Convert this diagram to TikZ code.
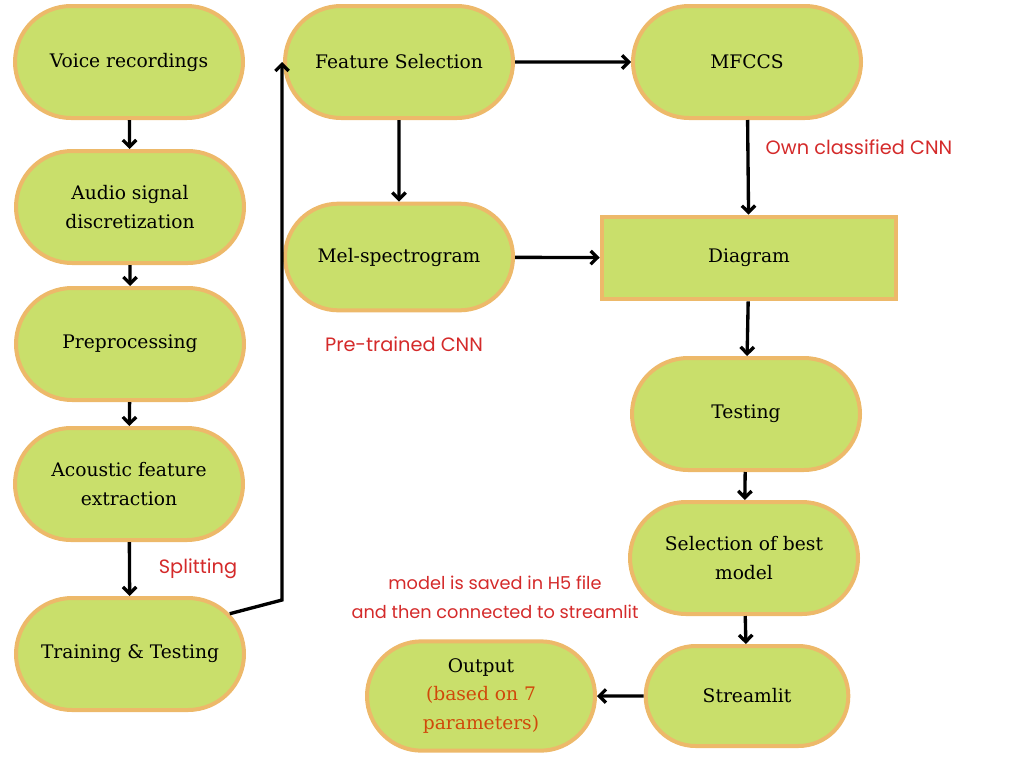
\documentclass[tikz,border=0pt]{standalone}
\usepackage{fontspec}
\setmainfont{DejaVu Serif}
\newfontfamily\notefont{Poppins}
\usepackage{tikz}
\usetikzlibrary{arrows.meta, shapes.misc}
\definecolor{leaf}{HTML}{C9DF6B}
\definecolor{rim}{HTML}{EDB96A}
\definecolor{note}{HTML}{D42A2A}
\definecolor{rust}{HTML}{D0480A}

\begin{document}
\begin{tikzpicture}[x=0.75pt, y=-0.75pt]
\tikzstyle{stage}=[rounded rectangle, draw=rim, fill=leaf, line width=3pt, minimum width=171pt, minimum height=84pt, inner sep=0pt, align=center, font=\fontsize{14}{21.5}\selectfont]
\tikzstyle{box}=[rectangle, draw=rim, fill=leaf, line width=3pt, minimum width=221pt, minimum height=62pt, align=center, font=\fontsize{14}{21.5}\selectfont]
\tikzstyle{remark}=[text=note, align=center, font=\notefont\fontsize{14.5}{21.5}\selectfont]
\tikzstyle{flow}=[draw=black, line width=2.5pt, -{Straight Barb[length=5pt, width=10pt]}]
\useasboundingbox (0,0) rectangle (1024,768);

% left column
\node[stage] (voice) at (129,62) {Voice recordings};
\node[stage] (audio) at (130,207) {Audio signal\\discretization};
\node[stage] (prep) at (130,344) {Preprocessing};
\node[stage] (acoustic) at (129,484) {Acoustic feature\\extraction};
\node[stage] (train) at (130,654) {Training \& Testing};

% middle column
\node[stage] (feat) at (399,62) {Feature Selection};
\node[stage, minimum height=80pt] (mel) at (399,257) {Mel-spectrogram};
\node[stage, minimum height=82pt] (output) at (481,696) {Output\\\textcolor{rust}{(based on 7}\\\textcolor{rust}{parameters)}};

% right column
\node[stage] (mfcc) at (747,62) {MFCCS};
\node[box] (diag) at (749,258) {Diagram};
\node[stage] (test) at (746,414) {Testing};
\node[stage] (best) at (744,558) {Selection of best\\model};
\node[stage, minimum width=152pt, minimum height=75pt] (stream) at (747,696) {Streamlit};

% notes
\node[remark] (own) at (859,147) {Own classified CNN};
\node[remark] (pre) at (404,344) {Pre-trained CNN};
\node[remark] (split) at (198,569) {Splitting};
\node[remark, font=\notefont\fontsize{13.3}{21.5}\selectfont] (saved) at (495,597) {model is saved in H5 file\\and then connected to streamlit};

\coordinate (kink) at (282,600);

\path[flow]
(voice) edge (audio)
(audio) edge (prep)
(prep) edge (acoustic)
(acoustic) edge (train)
(feat) edge (mfcc)
    edge (mel)
(mfcc) edge (diag)
(mel) edge (diag)
(diag) edge (test)
(test) edge (best)
(best) edge (stream)
(stream) edge (output);

\draw[flow] (train.22) -- (kink) -- (kink |- feat.west);

\end{tikzpicture}
\end{document}
